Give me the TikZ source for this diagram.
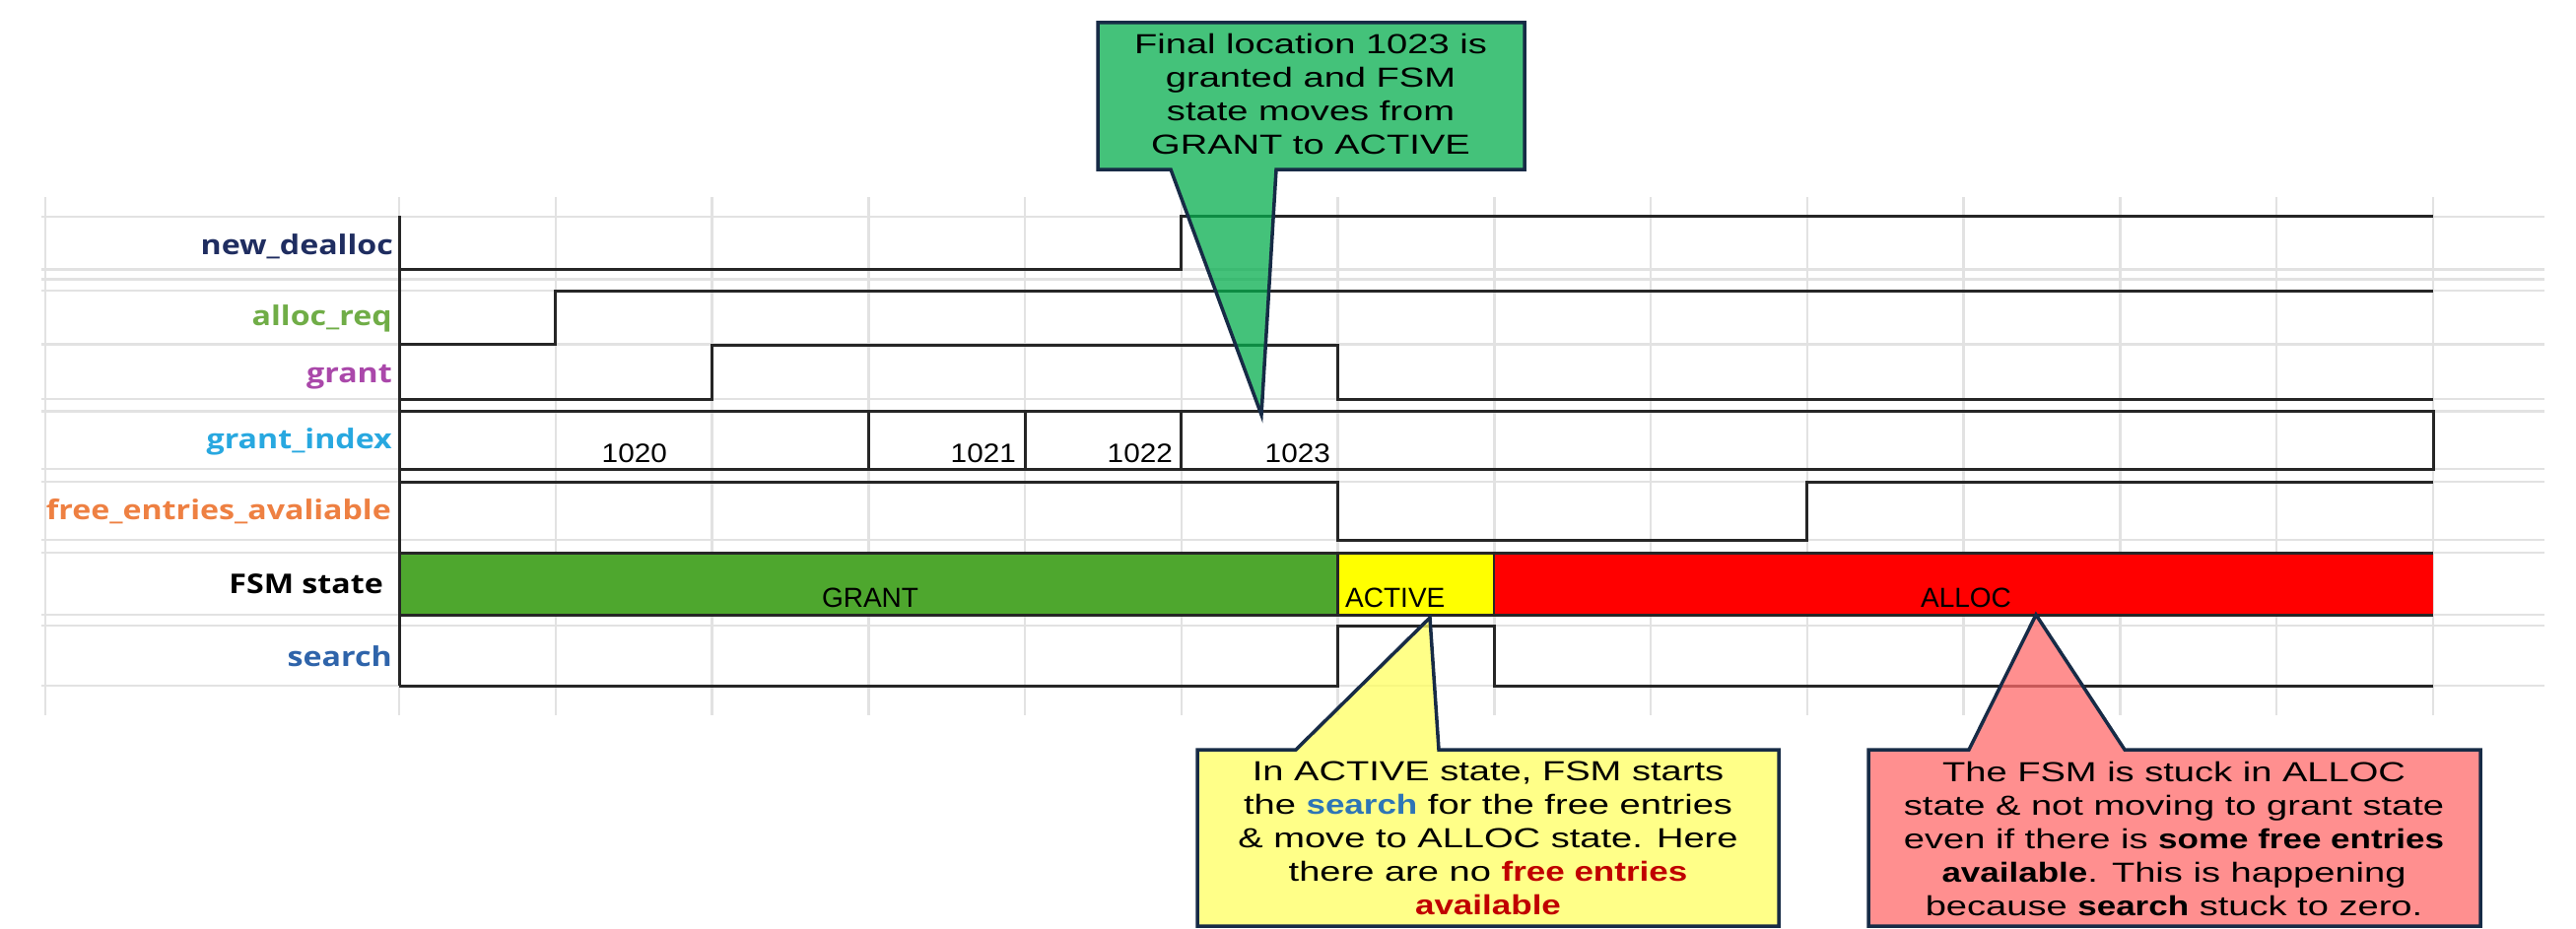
\documentclass[tikz,border=0pt]{standalone}
\usepackage{fontspec}
\setmainfont{Liberation Sans}
\newfontfamily\callfont[FakeStretch=1.36,BoldFeatures={FakeStretch=1.25}]{Liberation Sans}
\newfontfamily\labfont[FakeStretch=1.17]{Open Sans}
\newfontfamily\numfont[FakeStretch=1.1]{Liberation Sans}
\newfontfamily\statefont{Liberation Sans}
\definecolor{gridc}{RGB}{226,226,226}
\definecolor{sigc}{RGB}{38,38,38}
\definecolor{fsmgreen}{RGB}{78,167,46}
\definecolor{fsmyellow}{RGB}{255,255,0}
\definecolor{fsmred}{RGB}{255,0,0}
\definecolor{cgreen}{RGB}{5,173,77}
\definecolor{cyellow}{RGB}{255,255,96}
\definecolor{cred}{RGB}{255,105,105}
\definecolor{cborder}{RGB}{23,43,70}
\definecolor{lnavy}{RGB}{31,45,96}
\definecolor{lgreen}{RGB}{112,173,71}
\definecolor{lpurple}{RGB}{170,72,170}
\definecolor{lcyan}{RGB}{40,168,224}
\definecolor{lorange}{RGB}{238,128,66}
\definecolor{lblue}{RGB}{47,100,170}
\definecolor{tblue}{RGB}{46,117,182}
\definecolor{tred}{RGB}{192,0,0}
\begin{document}
\begin{tikzpicture}[x=1pt,y=-1pt,
  gridline/.style={draw=gridc,line width=2.5pt},
  sig/.style={draw=sigc,line width=3pt},
  siglabel/.style={anchor=base east,inner sep=0pt,font=\labfont\bfseries\fontsize{27.5}{32}\selectfont},
  statelabel/.style={inner sep=0pt,font=\statefont\fontsize{28}{34}\selectfont},
  numlabel/.style={anchor=base east,inner sep=0pt,font=\numfont\fontsize{27}{32}\selectfont},
  callout/.style={draw=cborder,line width=3.5pt,fill opacity=0.75},
  calltext/.style={anchor=north,inner sep=0pt,align=center,font=\callfont\fontsize{28}{34}\selectfont}
]
\useasboundingbox (0,0) rectangle (2614,942);

% grid
\foreach \y in {220,273.5,283.5,295,349.6,405,417.6,476,489,548,561,624,635,696}
  \draw[gridline] (42,\y) -- (2582,\y);
\foreach \x in {46,405,563.8,722.5,881.3,1040.1,1198.9,1357.6,1516.4,1675.2,1833.9,1992.7,2151.5,2310.2,2469}
  \draw[gridline] (\x,200) -- (\x,726);

% FSM state bar
\fill[fsmgreen] (405,561) rectangle (1357.6,624);
\fill[fsmyellow] (1357.6,561) rectangle (1516.4,624);
\fill[fsmred] (1516.4,561) rectangle (2469,624);
\draw[sig] (405,561) -- (2469,561);
\draw[sig] (405,624) -- (2469,624);
\draw[sig] (1357.6,561) -- (1357.6,624);
\draw[sig,line width=2pt] (1516.4,561) -- (1516.4,624);

% signals
\draw[sig] (405,219) -- (405,696);
\draw[sig] (405,273.5) -- (1198.9,273.5) -- (1198.9,219) -- (2469,219);
\draw[sig] (405,349.6) -- (563.8,349.6) -- (563.8,295) -- (2469,295);
\draw[sig] (405,405) -- (722.5,405) -- (722.5,350) -- (1357.6,350) -- (1357.6,405) -- (2469,405);
\draw[sig] (405,417.6) rectangle (2469,476);
\foreach \x in {881.3,1040.1,1198.9} \draw[sig] (\x,417.6) -- (\x,476);
\draw[sig] (405,489) -- (1357.6,489) -- (1357.6,548) -- (1833.9,548) -- (1833.9,489) -- (2469,489);
\draw[sig] (405,696) -- (1357.6,696) -- (1357.6,635) -- (1516.4,635) -- (1516.4,696) -- (2469,696);

% signal names
\node[siglabel,text=lnavy] (lnd) at (399,258) {new\_dealloc};
\node[siglabel,text=lgreen] (lar) at (398,330) {alloc\_req};
\node[siglabel,text=lpurple] (lgr) at (398,388) {grant};
\node[siglabel,text=lcyan] (lgi) at (398,455) {grant\_index};
\node[siglabel,text=lorange] (lfe) at (397,527) {free\_entries\_avaliable};
\node[siglabel,text=black] (lfsm) at (389,602) {FSM state};
\node[siglabel,text=lblue] (lse) at (398,676) {search};

% grant_index values
\node[numlabel] (n1020) at (677,469) {1020};
\node[numlabel] (n1021) at (1031,469) {1021};
\node[numlabel] (n1022) at (1190,469) {1022};
\node[numlabel] (n1023) at (1350,469) {1023};

% state names
\node[statelabel,anchor=base] (sgrant) at (883,616) {GRANT};
\node[statelabel,anchor=base west] (sactive) at (1365,616) {ACTIVE};
\node[statelabel,anchor=base] (salloc) at (1995,616) {ALLOC};

% callouts
\coordinate (gtip) at (1280,421);
\coordinate (ytip) at (1451,627);
\coordinate (rtip) at (2066,624);
\filldraw[callout,fill=cgreen] (1114,23) -- (1547,23) -- (1547,172) -- (1295,172) -- (gtip) -- (1188,172) -- (1114,172) -- cycle;
\filldraw[callout,fill=cyellow] (1215,761) -- (1315,761) -- (ytip) -- (1460,761) -- (1805,761) -- (1805,940) -- (1215,940) -- cycle;
\filldraw[callout,fill=cred] (1896,761) -- (1998,761) -- (rtip) -- (2156,761) -- (2517,761) -- (2517,940) -- (1896,940) -- cycle;

\node[calltext] (gtext) at (1330,34.5) {Final location 1023 is\\granted and FSM\\state moves from\\GRANT to ACTIVE};
\node[calltext] (ytext) at (1510,772.5) {In ACTIVE state, FSM starts\\the \textbf{\textcolor{tblue}{search}} for the free entries\\\& move to ALLOC state. Here\\there are no \textbf{\textcolor{tred}{free entries}}\\\textbf{\textcolor{tred}{available}}};
\node[calltext] (rtext) at (2206,772.5) {The FSM is stuck in ALLOC\\state \& not moving to grant state\\even if there is \textbf{some free entries}\\\textbf{available}. This is happening\\because \textbf{search} stuck to zero.};
\end{tikzpicture}
\end{document}
